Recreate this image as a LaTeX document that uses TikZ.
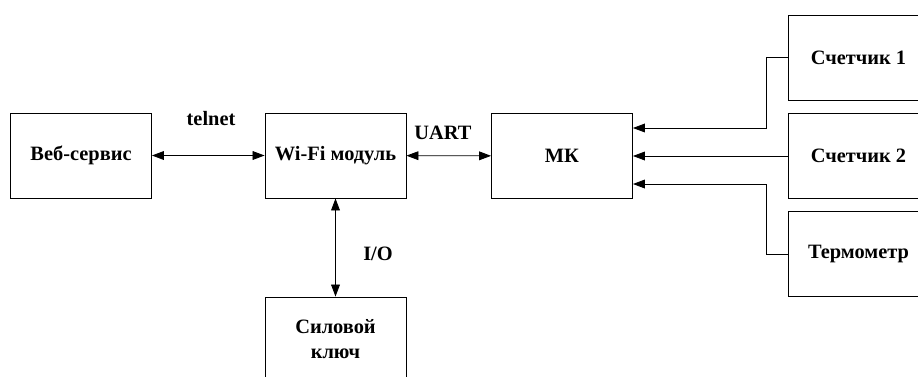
\documentclass[tikz,border=0pt]{standalone}
\usepackage{fontspec}
\setmainfont{Liberation Serif}
\usetikzlibrary{arrows.meta,positioning}

\begin{document}
\begin{tikzpicture}[x=0.025cm,y=-0.025cm,line width=0.6pt,
	blk/.style={draw,minimum width=3.525cm,minimum height=2.125cm,align=center,
		font=\fontsize{14.5}{17.8}\selectfont\bfseries},
	lbl/.style={font=\fontsize{14.5}{17.8}\selectfont\bfseries},
	>={Triangle[length=0.3cm,width=0.22cm]}]
		\clip (0,0) rectangle (918,376);
		% blocks
		\node[blk] (web) at (81,155.5) {Веб-сервис};
		\node[blk] (wifi) at (335.5,155.5) {Wi-Fi модуль};
		\node[blk] (mk) at (562,156) {МК};
		\node[blk] (key) at (335.5,339.5) {Силовой\\ключ};
		\node[blk] (cnt1) at (858.5,57.5) {Счетчик 1};
		\node[blk] (cnt2) at (858.5,156) {Счетчик 2};
		\node[blk] (therm) at (858.5,254) {Термометр};
		% links
		\draw[<->] (web) -- (wifi);
		\draw[<->] (wifi) -- (mk);
		\draw[<->] (wifi) -- (key);
		\draw[->] (cnt1.west) -- ++(-21,0) |- ([yshift=0.7cm]mk.east);
		\draw[->] (cnt2) -- (mk);
		\draw[->] (therm.west) -- ++(-21,0) |- ([yshift=-0.7cm]mk.east);
		% interface names
		\node[lbl] (telnet) at (211,119) {telnet};
		\node[lbl] (uart) at (443,133) {UART};
		\node[lbl] (io) at (378,254) {I/O};
	\end{tikzpicture}
\end{document}
